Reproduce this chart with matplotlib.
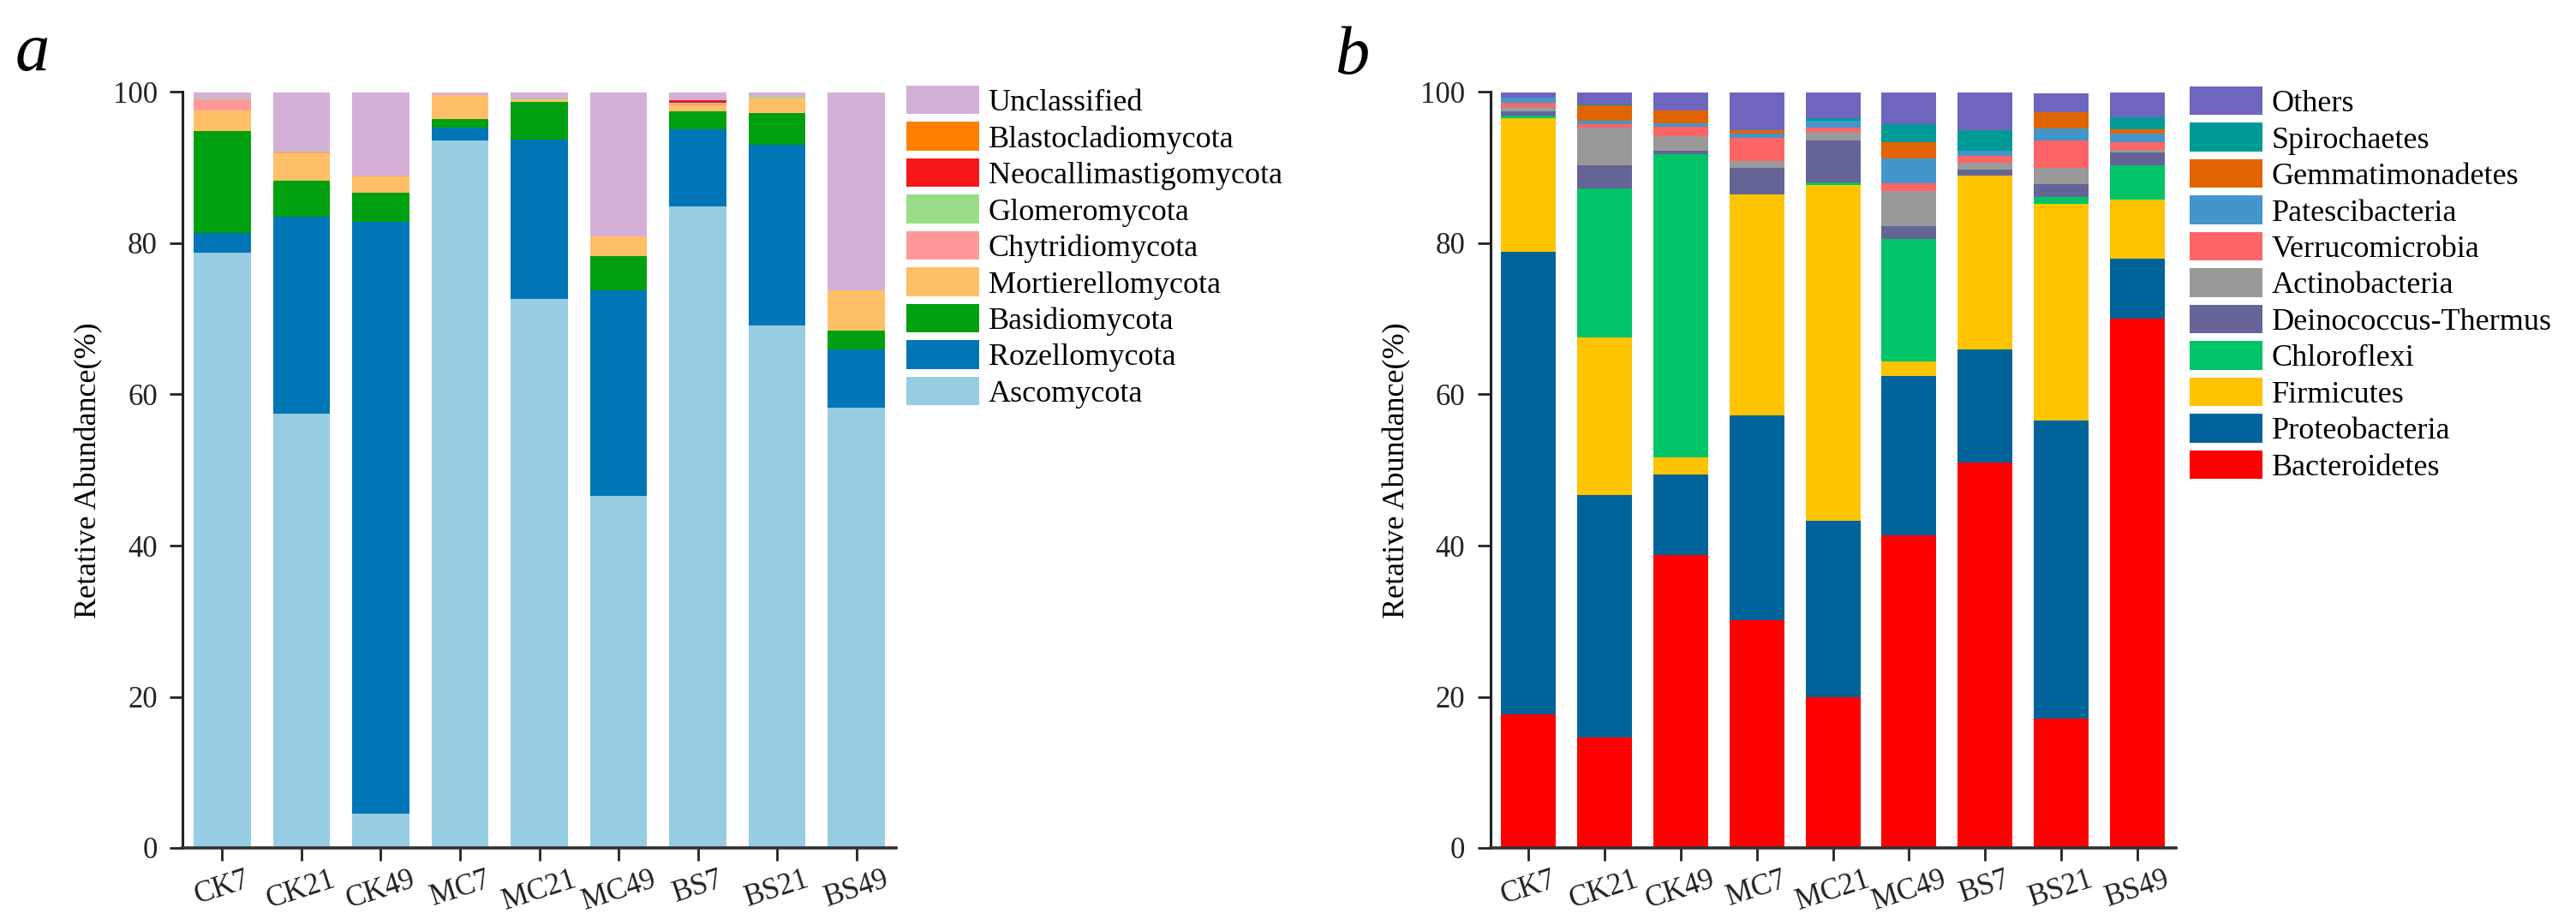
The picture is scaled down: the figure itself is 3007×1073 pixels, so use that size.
import matplotlib
matplotlib.use("Agg")
import matplotlib.pyplot as plt
import numpy as np

plt.rcParams['font.family'] = ['Liberation Serif', 'DejaVu Serif']

samples = ["CK7", "CK21", "CK49", "MC7", "MC21", "MC49", "BS7", "BS21", "BS49"]

# ---- panel a: fungi (bottom -> top) ----
fungi_names = ["Ascomycota", "Rozellomycota", "Basidiomycota", "Mortierellomycota",
               "Chytridiomycota", "Glomeromycota", "Neocallimastigomycota",
               "Blastocladiomycota", "Unclassified"]
ascomycota = [78.8, 57.5, 4.5, 93.6, 72.6, 46.6, 84.9, 69.1, 58.3]
rozellomycota = [2.6, 26.0, 78.3, 1.7, 21.1, 27.2, 10.2, 23.9, 7.6]
basidiomycota = [13.4, 4.75, 3.9, 1.1, 5.05, 4.45, 2.3, 4.2, 2.5]
mortierellomycota = [2.8, 3.6, 2.1, 3.2, 0.3, 2.6, 0.85, 2.1, 5.4]
chytridiomycota = [1.4, 0.3, 0.1, 0.0, 0.0, 0.0, 0.2, 0.0, 0.0]
glomeromycota = [0.1, 0.1, 0.0, 0.0, 0.05, 0.0, 0.1, 0.05, 0.0]
neocallimastigomycota = [0.0, 0.0, 0.0, 0.0, 0.0, 0.0, 0.4, 0.0, 0.0]
blastocladiomycota = [0.0, 0.0, 0.0, 0.0, 0.0, 0.0, 0.0, 0.0, 0.0]
unclassified = [0.9, 7.75, 11.1, 0.4, 0.9, 19.15, 1.05, 0.65, 26.2]
fungi_colors = ["#96CDE2", "#0076B6", "#00A010", "#FFBF66", "#FF9999",
                "#99DD88", "#F5161A", "#FF7F00", "#D4B0D8"]

# ---- panel b: bacteria (bottom -> top) ----
bact_names = ["Bacteroidetes", "Proteobacteria", "Firmicutes", "Chloroflexi",
              "Deinococcus-Thermus", "Actinobacteria", "Verrucomicrobia",
              "Patescibacteria", "Gemmatimonadetes", "Spirochaetes", "Others"]
bacteroidetes = [17.7, 14.6, 38.8, 30.1, 19.9, 41.4, 51.0, 17.1, 70.0]
proteobacteria = [61.2, 32.05, 10.6, 27.1, 23.4, 21.0, 15.0, 39.5, 8.0]
firmicutes = [17.7, 20.85, 2.3, 29.3, 44.35, 2.0, 22.9, 28.6, 7.8]
chloroflexi = [0.3, 19.8, 40.1, 0.0, 0.4, 16.2, 0.1, 0.9, 4.5]
deinococcus = [0.5, 3.0, 0.4, 3.5, 5.6, 1.7, 0.8, 1.7, 1.7]
actinobacteria = [0.6, 5.0, 2.0, 0.9, 1.1, 4.6, 0.8, 2.2, 0.4]
verrucomicrobia = [0.6, 0.5, 1.2, 3.0, 0.6, 1.0, 1.0, 3.6, 1.0]
patescibacteria = [0.7, 0.4, 0.5, 0.6, 0.9, 3.3, 0.6, 1.6, 1.05]
gemmatimonadetes = [0.0, 2.1, 1.7, 0.5, 0.0, 2.2, 0.0, 2.1, 0.6]
spirochaetes = [0.0, 0.1, 0.0, 0.0, 0.3, 2.3, 2.8, 0.0, 1.6]
others = [0.7, 1.6, 2.4, 5.0, 3.5, 4.4, 5.0, 2.5, 3.3]
bact_colors = ["#FF0000", "#00649A", "#FFC400", "#00C468", "#646497",
               "#999999", "#FF6466", "#4396CC", "#E06400", "#009A96", "#6E66BE"]

fungi_data = [ascomycota, rozellomycota, basidiomycota, mortierellomycota,
              chytridiomycota, glomeromycota, neocallimastigomycota,
              blastocladiomycota, unclassified]
bact_data = [bacteroidetes, proteobacteria, firmicutes, chloroflexi, deinococcus,
             actinobacteria, verrucomicrobia, patescibacteria, gemmatimonadetes,
             spirochaetes, others]

W, H = 3007, 1073
fig = plt.figure(figsize=(W / 100, H / 100), dpi=100)

def px(x0, y_top, x1, y_bot):
    return [x0 / W, 1 - y_bot / H, (x1 - x0) / W, (y_bot - y_top) / H]

ax_a = fig.add_axes(px(213, 107.5, 1046, 990))
ax_b = fig.add_axes(px(1739.5, 107.5, 2539.5, 990))

def draw(ax, data, names, colors, leg_anchor):
    x = np.arange(len(samples))
    bottom = np.zeros(len(samples))
    handles = []
    for vals, name, col in zip(data, names, colors):
        v = np.array(vals, dtype=float)
        b = ax.bar(x, v, 0.72, bottom=bottom, color=col, edgecolor='none',
                   label=name, linewidth=0)
        bottom += v
        handles.append(b)
    ax.set_xlim(-0.5, len(samples) - 0.5)
    ax.set_ylim(0, 100)
    ax.set_yticks([0, 20, 40, 60, 80, 100])
    ax.set_xticks(x)
    ax.set_xticklabels(samples, rotation=18, ha='center', fontsize=25)
    ax.tick_params(axis='y', labelsize=25, length=11, width=2, pad=10, colors='#222222')
    ax.tick_params(axis='x', length=11, width=2, pad=4, colors='#222222')
    for s in ['top', 'right']:
        ax.spines[s].set_visible(False)
    ax.spines['left'].set_linewidth(2.2)
    ax.spines['bottom'].set_linewidth(2.6)
    ax.spines['left'].set_color('#222222')
    ax.spines['bottom'].set_color('#333333')
    ax.set_ylabel("Retative Abundance(%)", fontsize=26, labelpad=8)
    leg = ax.legend(handles[::-1], names[::-1], loc='upper left',
                    bbox_to_anchor=leg_anchor, bbox_transform=fig.transFigure,
                    frameon=False, fontsize=26, borderpad=0, borderaxespad=0,
                    handlelength=2.35, handleheight=1.05, handletextpad=0.3,
                    labelspacing=0.15)
    return leg

draw(ax_a, fungi_data, fungi_names, fungi_colors, (1058 / W, 1 - 100 / H))
draw(ax_b, bact_data, bact_names, bact_colors, (2556 / W, 1 - 101 / H))

fig.text(18 / W, 1 - 82 / H, "a", fontsize=58, style='italic', va='baseline', ha='left')
fig.text(1558 / W, 1 - 86 / H, "b", fontsize=58, style='italic', va='baseline', ha='left')

fig.savefig("out.png", dpi=100, facecolor='white')
